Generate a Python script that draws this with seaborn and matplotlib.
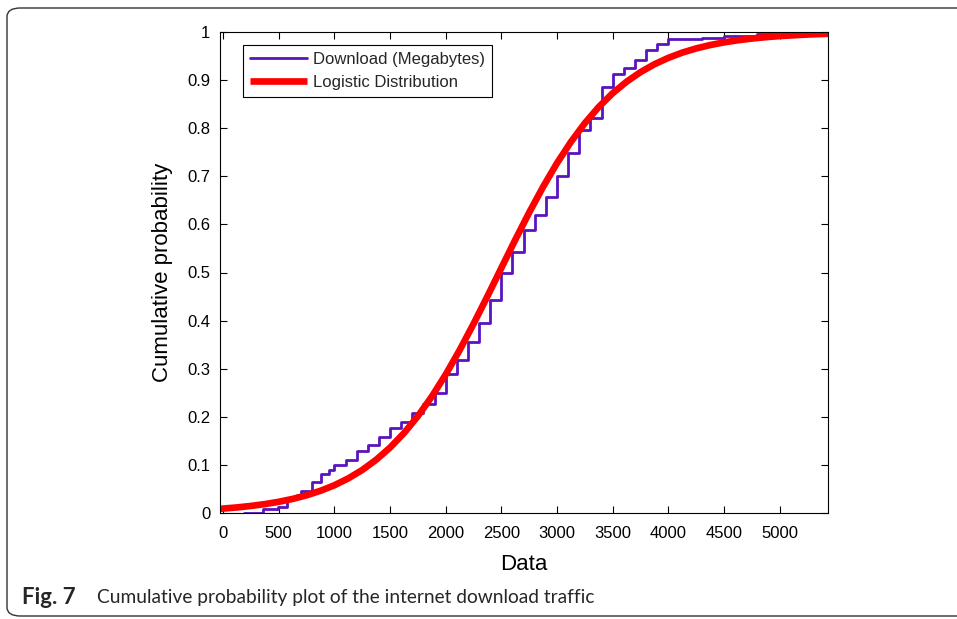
import matplotlib
matplotlib.use("Agg")
import matplotlib.pyplot as plt
import seaborn as sns
import pandas as pd
from matplotlib.patches import FancyBboxPatch

# Empirical CDF of download traffic (step positions and cumulative levels)
ecdf_x = [190, 360, 490, 570, 660, 700, 800, 880, 950,
          1000, 1100, 1200, 1300, 1400, 1500, 1600, 1700, 1800, 1900,
          2000, 2100, 2200, 2300, 2400, 2500, 2600, 2700, 2800, 2900,
          3000, 3100, 3200, 3300, 3400, 3500, 3600, 3700, 3800, 3900,
          4000, 4300, 4500, 4800, 5000]
ecdf_y = [0.0, 0.008, 0.013, 0.031, 0.037, 0.046, 0.065, 0.082, 0.089,
          0.100, 0.110, 0.129, 0.141, 0.159, 0.177, 0.190, 0.208, 0.226, 0.249,
          0.290, 0.318, 0.356, 0.394, 0.443, 0.498, 0.543, 0.588, 0.620, 0.658,
          0.700, 0.748, 0.796, 0.821, 0.886, 0.912, 0.925, 0.942, 0.963, 0.976,
          0.985, 0.988, 0.992, 0.995, 1.0]

# Fitted logistic distribution curve
logis_x = [-30, 0, 125, 250, 375, 500, 625, 750, 875, 1000, 1125, 1250, 1375,
           1500, 1625, 1750, 1875, 2000, 2125, 2250, 2375, 2500, 2625, 2750,
           2875, 3000, 3125, 3250, 3375, 3500, 3625, 3750, 3875, 4000, 4125,
           4250, 4375, 4500, 4625, 4750, 4875, 5000, 5125, 5250, 5375, 5450]
logis_y = [0.0087, 0.0092, 0.0116, 0.0147, 0.0185, 0.0233, 0.0293, 0.0368,
           0.0462, 0.0577, 0.0720, 0.0894, 0.1106, 0.1360, 0.1661, 0.2014,
           0.2420, 0.2879, 0.3385, 0.3932, 0.4506, 0.5094, 0.5680, 0.6246,
           0.6781, 0.7273, 0.7715, 0.8104, 0.8441, 0.8727, 0.8966, 0.9165,
           0.9329, 0.9462, 0.9571, 0.9658, 0.9728, 0.9784, 0.9828, 0.9864,
           0.9892, 0.9915, 0.9932, 0.9947, 0.9958, 0.9963]

x_ticks = [0, 500, 1000, 1500, 2000, 2500, 3000, 3500, 4000, 4500, 5000]
x_tick_labels = ["0", "500", "1000", "1500", "2000", "2500", "3000", "3500",
                 "4000", "4500", "5000"]
y_ticks = [0, 0.1, 0.2, 0.3, 0.4, 0.5, 0.6, 0.7, 0.8, 0.9, 1.0]
y_tick_labels = ["0", "0.1", "0.2", "0.3", "0.4", "0.5", "0.6", "0.7", "0.8",
                 "0.9", "1"]

series_labels = ["Download (Megabytes)", "Logistic Distribution"]
caption_bold = "Fig. 7"
caption_text = "Cumulative probability plot of the internet download traffic"

sns.set_theme(style="white")
plt.rcParams["font.family"] = ["Liberation Sans", "DejaVu Sans"]
plt.rcParams["xtick.direction"] = "in"
plt.rcParams["ytick.direction"] = "in"

df_ecdf = pd.DataFrame({"x": ecdf_x, "y": ecdf_y})
df_logis = pd.DataFrame({"x": logis_x, "y": logis_y})

fig = plt.figure(figsize=(9.57, 6.19), dpi=100)
fig.patch.set_facecolor("white")

# rounded panel frame
frame = FancyBboxPatch((7 / 957, 3 / 619), 1.2, 608 / 619,
                       boxstyle="round,pad=0,rounding_size=0.014",
                       transform=fig.transFigure, fill=False,
                       edgecolor="#333333", linewidth=1.0, clip_on=False)
fig.patches.append(frame)

ax = fig.add_axes([220 / 957, 106 / 619, 608 / 957, 481 / 619])
ax.set_facecolor("white")

purple = "#5a14be"
sns.lineplot(data=df_ecdf, x="x", y="y", ax=ax, drawstyle="steps-post",
             estimator=None, sort=False, color=purple, linewidth=2.0,
             label=series_labels[0])
sns.lineplot(data=df_logis, x="x", y="y", ax=ax, estimator=None, sort=False,
             color="#ff0000", linewidth=4.8, solid_joinstyle="round",
             solid_capstyle="butt", label=series_labels[1])

ax.set_xlim(-28, 5435)
ax.set_ylim(0, 1)
ax.set_xticks(x_ticks)
ax.set_xticklabels(x_tick_labels)
ax.set_yticks(y_ticks)
ax.set_yticklabels(y_tick_labels)
ax.tick_params(axis="both", which="both", direction="in", length=5, width=0.8,
               colors="black", labelsize=12, top=True, right=True,
               bottom=True, left=True)
ax.tick_params(axis="x", pad=9)
ax.tick_params(axis="y", pad=7)
for sp in ax.spines.values():
    sp.set_visible(True)
    sp.set_color("black")
    sp.set_linewidth(0.8)

ax.set_xlabel("Data", fontsize=16, color="black", labelpad=10)
ax.set_ylabel("Cumulative probability", fontsize=16, color="black", labelpad=10)

leg = ax.legend(loc="upper left", bbox_to_anchor=(0.038, 0.973),
                borderaxespad=0, frameon=True, fancybox=False,
                edgecolor="black", framealpha=1, fontsize=12,
                handlelength=3.4, handletextpad=0.4, borderpad=0.42,
                labelspacing=0.5)
leg.get_frame().set_linewidth(0.8)

fig.text(22 / 957, 1 - 598 / 619, caption_bold, fontsize=16, fontweight="bold",
         family=["Lato", "DejaVu Sans"], va="center", ha="left")
fig.text(97 / 957, 1 - 598 / 619, caption_text, fontsize=13.8,
         family=["Lato", "DejaVu Sans"], va="center", ha="left")

fig.savefig("out.png", dpi=100, facecolor="white")
